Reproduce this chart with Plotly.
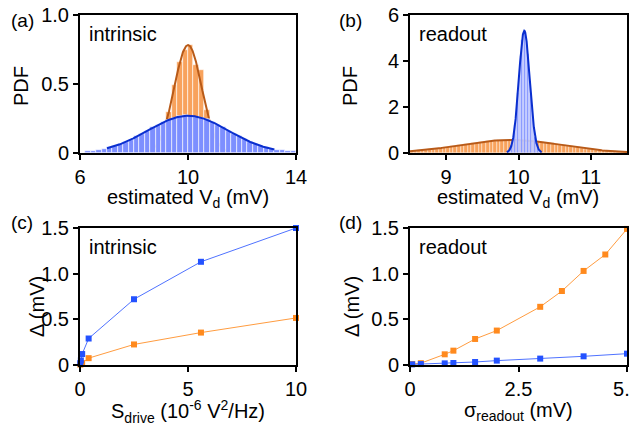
import numpy as np
import plotly.graph_objects as go

# ---------------- data ----------------
# (a) intrinsic: histograms (bin width 0.2)
a_blue_x = [6.3, 6.5, 6.7, 6.9, 7.1, 7.3, 7.5, 7.7, 7.9, 8.1, 8.3, 8.5, 8.7, 8.9, 9.1, 9.3, 9.5, 9.7, 9.9,
            10.1, 10.3, 10.5, 10.7, 10.9, 11.1, 11.3, 11.5, 11.7, 11.9, 12.1, 12.3, 12.5, 12.7, 12.9,
            13.1, 13.3, 13.5, 13.7, 13.9]
a_blue_y = [0.012, 0.015, 0.02, 0.03, 0.042, 0.05, 0.066, 0.082, 0.097, 0.12, 0.138, 0.162, 0.186, 0.203,
            0.226, 0.238, 0.257, 0.268, 0.275, 0.27, 0.262, 0.254, 0.243, 0.222, 0.203, 0.185, 0.16,
            0.14, 0.121, 0.098, 0.081, 0.064, 0.05, 0.04, 0.031, 0.025, 0.02, 0.014, 0.012]
a_orange_x = [8.3, 8.5, 8.7, 8.9, 9.1, 9.3, 9.5, 9.7, 9.9, 10.1, 10.3, 10.5, 10.7, 10.9, 11.1, 11.3, 11.5, 11.7]
a_orange_y = [0.01, 0.012, 0.03, 0.076, 0.17, 0.3, 0.49, 0.66, 0.75, 0.78, 0.64, 0.6, 0.31, 0.16, 0.07, 0.03,
              0.01, 0.004]
# fitted gaussians (mean, sigma, amplitude, drawn range)
a_blue_fit = (10.0, 1.48, 0.2696, 7.0, 13.2)
a_orange_fit = (10.0, 0.51, 0.782, 8.5, 11.5)

# (b) readout: histograms
b_orange_x = [8.525 + 0.05 * i for i in range(60)]
b_orange_y = [0.09, 0.095, 0.11, 0.12, 0.14, 0.155, 0.175, 0.19, 0.215, 0.24, 0.26, 0.285, 0.31, 0.33,
              0.36, 0.38, 0.41, 0.43, 0.45, 0.475, 0.49, 0.515, 0.525, 0.54, 0.555, 0.56, 0.57, 0.57,
              0.565, 0.57, 0.56, 0.55, 0.545, 0.525, 0.515, 0.49, 0.475, 0.45, 0.43, 0.41, 0.38, 0.36,
              0.335, 0.31, 0.285, 0.26, 0.24, 0.215, 0.195, 0.175, 0.155, 0.14, 0.12, 0.11, 0.095, 0.083,
              0.07, 0.06, 0.05, 0.04]
b_blue_x = [9.87 + 0.02 * i for i in range(22)]
b_blue_y = [0.1, 0.2, 0.4, 0.7, 1.2, 1.8, 2.6, 3.4, 4.2, 4.9, 5.25, 5.3, 4.9, 4.3, 3.5, 2.6, 1.8, 1.2, 0.7,
            0.4, 0.2, 0.1]
b_blue_fit = (10.08, 0.075, 5.32, 9.84, 10.32)
b_orange_fit = (9.9, 0.7, 0.57, 8.5, 11.5)

# (c) intrinsic: Delta vs S_drive
c_x = [0.01, 0.04, 0.1, 0.4, 2.5, 5.6, 10.0]
c_blue = [0.02, 0.05, 0.12, 0.29, 0.72, 1.13, 1.5]
c_orange = [0.005, 0.01, 0.02, 0.075, 0.225, 0.355, 0.515]

# (d) readout: Delta vs sigma_readout
d_x_orange = [0.05, 0.25, 0.8, 1.0, 1.5, 2.0, 3.0, 3.5, 4.0, 4.5, 5.0]
d_orange = [0.01, 0.02, 0.117, 0.157, 0.285, 0.377, 0.637, 0.81, 1.03, 1.21, 1.49]
d_x_blue = [0.05, 0.25, 0.8, 1.0, 1.5, 2.0, 3.0, 4.0, 5.0]
d_blue = [0.007, 0.01, 0.018, 0.022, 0.033, 0.048, 0.07, 0.095, 0.124]

# ---------------- style ----------------
FONT = "Liberation Sans, Arial, sans-serif"
BLUE_BAR = "#7d8fff"
ORANGE_BAR = "#f8a25c"
BLUE_FIT = "#0a2fcf"
ORANGE_FIT = "#b85a18"
BLUE_M = "#2452ff"
BLUE_L = "#4f72ff"
ORANGE_M = "#ff8a1e"
ORANGE_L = "#ff9c40"


def fit_curve(p, n=300):
    mu, s, amp, lo, hi = p
    xs = np.linspace(lo, hi, n)
    return xs, amp * np.exp(-(xs - mu) ** 2 / (2 * s * s))


fig = go.Figure()

# (a) orange on base axes, blue on an overlaid axes pair so it sits above the orange fit
fig.add_trace(go.Bar(x=a_orange_x, y=a_orange_y, width=0.2, marker=dict(color=ORANGE_BAR, line=dict(color="white", width=0.6)),
                     xaxis="x", yaxis="y", showlegend=False))
xs, ys = fit_curve(a_orange_fit)
fig.add_trace(go.Scatter(x=xs, y=ys, mode="lines", line=dict(color=ORANGE_FIT, width=2), xaxis="x", yaxis="y", showlegend=False))
fig.add_trace(go.Bar(x=a_blue_x, y=a_blue_y, width=0.2, marker=dict(color=BLUE_BAR, line=dict(color="white", width=0.6)),
                     xaxis="x5", yaxis="y5", showlegend=False))
xs, ys = fit_curve(a_blue_fit)
fig.add_trace(go.Scatter(x=xs, y=ys, mode="lines", line=dict(color=BLUE_FIT, width=2), xaxis="x5", yaxis="y5", showlegend=False))

# (b)
fig.add_trace(go.Bar(x=b_orange_x, y=b_orange_y, width=0.05, marker=dict(color=ORANGE_BAR, line=dict(color="white", width=0.4)),
                     xaxis="x2", yaxis="y2", showlegend=False))
xs, ys = fit_curve(b_orange_fit)
fig.add_trace(go.Scatter(x=xs, y=ys, mode="lines", line=dict(color=ORANGE_FIT, width=2), xaxis="x2", yaxis="y2", showlegend=False))
fig.add_trace(go.Bar(x=b_blue_x, y=b_blue_y, width=0.02, marker=dict(color=BLUE_BAR, line=dict(color="white", width=0.4)),
                     xaxis="x6", yaxis="y6", showlegend=False))
xs, ys = fit_curve(b_blue_fit)
fig.add_trace(go.Scatter(x=xs, y=ys, mode="lines", line=dict(color=BLUE_FIT, width=2), xaxis="x6", yaxis="y6", showlegend=False))

# (c)
fig.add_trace(go.Scatter(x=c_x, y=c_orange, mode="lines+markers", line=dict(color=ORANGE_L, width=1),
                         marker=dict(symbol="square", size=6, color=ORANGE_M), cliponaxis=False,
                         xaxis="x3", yaxis="y3", showlegend=False))
fig.add_trace(go.Scatter(x=c_x, y=c_blue, mode="lines+markers", line=dict(color=BLUE_L, width=1),
                         marker=dict(symbol="square", size=6, color=BLUE_M), cliponaxis=False,
                         xaxis="x3", yaxis="y3", showlegend=False))
# (d)
fig.add_trace(go.Scatter(x=d_x_orange, y=d_orange, mode="lines+markers", line=dict(color=ORANGE_L, width=1),
                         marker=dict(symbol="square", size=6, color=ORANGE_M), cliponaxis=False,
                         xaxis="x4", yaxis="y4", showlegend=False))
fig.add_trace(go.Scatter(x=d_x_blue, y=d_blue, mode="lines+markers", line=dict(color=BLUE_L, width=1),
                         marker=dict(symbol="square", size=6, color=BLUE_M), cliponaxis=False,
                         xaxis="x4", yaxis="y4", showlegend=False))

W, H = 629, 426


def px(x):
    return x / W


def py(y):
    return 1 - y / H


axis_common = dict(showline=True, mirror=True, linecolor="black", linewidth=2, ticks="outside",
                   ticklen=5, tickwidth=2, tickcolor="black", showgrid=False, zeroline=False,
                   automargin=False, ticklabeloverflow="allow",
                   tickfont=dict(family=FONT, size=20, color="black"))

A = (80, 296, 15, 153)
B = (410, 627, 15, 153)
C = (80, 296, 228, 365)
D = (410, 627, 228, 365)

hidden = dict(visible=False, showgrid=False, zeroline=False)

fig.update_layout(
    width=W, height=H, margin=dict(l=0, r=0, t=0, b=0, autoexpand=False),
    paper_bgcolor="white", plot_bgcolor="white", barmode="overlay", bargap=0,
    font=dict(family=FONT, size=20, color="black"),
    xaxis=dict(domain=[px(A[0]), px(A[1])], range=[6, 14], tickvals=[6, 10, 14], anchor="y", **axis_common),
    yaxis=dict(domain=[py(A[3]), py(A[2])], range=[0, 1], tickvals=[0, 0.5, 1.0], ticktext=["0", "0.5", "1.0"], anchor="x", **axis_common),
    xaxis2=dict(domain=[px(B[0]), px(B[1])], range=[8.5, 11.5], tickvals=[9, 10, 11], anchor="y2", **axis_common),
    yaxis2=dict(domain=[py(B[3]), py(B[2])], range=[0, 6], tickvals=[0, 2, 4, 6], anchor="x2", **axis_common),
    xaxis3=dict(domain=[px(C[0]), px(C[1])], range=[0, 10], tickvals=[0, 5, 10], anchor="y3", **axis_common),
    yaxis3=dict(domain=[py(C[3]), py(C[2])], range=[0, 1.5], tickvals=[0, 0.5, 1.0, 1.5], ticktext=["0", "0.5", "1.0", "1.5"], anchor="x3", **axis_common),
    xaxis4=dict(domain=[px(D[0]), px(D[1])], range=[0, 5], tickvals=[0, 2.5, 5.0], ticktext=["0", "2.5", "5.0"], anchor="y4", **axis_common),
    yaxis4=dict(domain=[py(D[3]), py(D[2])], range=[0, 1.5], tickvals=[0, 0.5, 1.0, 1.5], ticktext=["0", "0.5", "1.0", "1.5"], anchor="x4", **axis_common),
    xaxis5=dict(overlaying="x", range=[6, 14], anchor="y5", **hidden),
    yaxis5=dict(overlaying="y", range=[0, 1], anchor="x5", **hidden),
    xaxis6=dict(overlaying="x2", range=[8.5, 11.5], anchor="y6", **hidden),
    yaxis6=dict(overlaying="y2", range=[0, 6], anchor="x6", **hidden),
)


def ann(text, x, y, size=20, angle=0, xanchor="center", yanchor="middle"):
    fig.add_annotation(text=text, x=px(x), y=py(y), xref="paper", yref="paper", showarrow=False,
                       textangle=angle, xanchor=xanchor, yanchor=yanchor,
                       font=dict(family=FONT, size=size, color="black"))


# panel labels
ann("(a)", 9, 20, size=19, xanchor="left")
ann("(b)", 337, 20, size=19, xanchor="left")
ann("(c)", 9, 222, size=19, xanchor="left")
ann("(d)", 337, 222, size=19, xanchor="left")
# inside labels
ann("intrinsic", 87, 34, size=20, xanchor="left")
ann("readout", 417, 34, size=20, xanchor="left")
ann("intrinsic", 87, 247, size=20, xanchor="left")
ann("readout", 417, 247, size=20, xanchor="left")
# y titles
ann("PDF", 21, 86, angle=-90)
ann("PDF", 350, 86, angle=-90)
ann("Δ (mV)", 37, 307, angle=-90)
ann("Δ (mV)", 352, 307, angle=-90)
# x titles
ann("estimated V<sub>d</sub> (mV)", 188, 198, size=20)
ann("estimated V<sub>d</sub> (mV)", 518, 198, size=20)
ann("S<sub>drive</sub> (10<sup>-6</sup> V<sup>2</sup>/Hz)", 188, 411, size=20)
ann("σ<sub>readout</sub> (mV)", 518, 411, size=20)

fig.write_html("out.html", config={"displayModeBar": False},
               post_script="document.body.style.margin='0';document.body.style.overflow='hidden';")
